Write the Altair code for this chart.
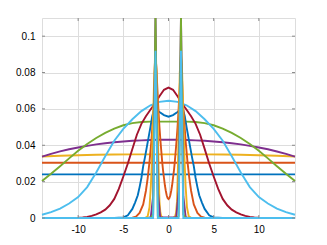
import altair as alt
import pandas as pd

# ---- data ----
X_FLAT = [-14, 14]
BLUE_FLAT = [0.0240, 0.0240]
ORANGE_FLAT = [0.0304, 0.0304]

X_YELLOW_WIDE = [-14, -12, -10, -8, -6, -4, -2, 0, 2, 4, 6, 8, 10, 12, 14]
YELLOW_WIDE = [0.0338, 0.0342, 0.0345, 0.0348, 0.0349, 0.0350, 0.0350, 0.0350,
               0.0350, 0.0350, 0.0349, 0.0348, 0.0345, 0.0342, 0.0338]

X_WIDE = [-14, -13, -12, -11, -10, -9, -8, -7, -6, -5, -4, -3, -2, -1, 0,
          1, 2, 3, 4, 5, 6, 7, 8, 9, 10, 11, 12, 13, 14]
PURPLE_WIDE = [0.0338, 0.0353, 0.0366, 0.0378, 0.0388, 0.0397, 0.0405, 0.0411, 0.0417,
               0.0421, 0.0425, 0.0427, 0.0429, 0.0430, 0.0430, 0.0430, 0.0429, 0.0427,
               0.0425, 0.0421, 0.0417, 0.0411, 0.0405, 0.0397, 0.0388, 0.0378, 0.0366,
               0.0353, 0.0338]
GREEN_WIDE = [0.0203, 0.0243, 0.0285, 0.0328, 0.0370, 0.0407, 0.0440, 0.0468, 0.0492,
              0.0510, 0.0522, 0.0528, 0.0530, 0.0530, 0.0530, 0.0530, 0.0530, 0.0528,
              0.0522, 0.0510, 0.0492, 0.0468, 0.0440, 0.0407, 0.0370, 0.0328, 0.0285,
              0.0243, 0.0203]
LIGHTBLUE_WIDE = [0.0018, 0.0032, 0.0052, 0.0080, 0.0115, 0.0170, 0.0250, 0.0340, 0.0425,
                  0.0490, 0.0543, 0.0588, 0.0620, 0.0639, 0.0645, 0.0639, 0.0620, 0.0588,
                  0.0543, 0.0490, 0.0425, 0.0340, 0.0250, 0.0170, 0.0115, 0.0080, 0.0052,
                  0.0032, 0.0018]

X_RED = [-14, -12, -10, -9.5, -9, -8.5, -8, -7.5, -7, -6.5, -6, -5.5, -5, -4.5, -4, -3.5,
         -3, -2.5, -2, -1.5, -1, -0.5, 0, 0.5, 1, 1.5, 2, 2.5, 3, 3.5, 4, 4.5, 5, 5.5, 6,
         6.5, 7, 7.5, 8, 8.5, 9, 9.5, 10, 12, 14]
RED = [0, 0, 0.0001, 0.0003, 0.0006, 0.0012, 0.0020, 0.0031, 0.0046, 0.0070, 0.0105,
       0.0160, 0.0228, 0.0300, 0.0380, 0.0458, 0.0518, 0.0560, 0.0595, 0.0630, 0.0670,
       0.0705, 0.0717, 0.0705, 0.0670, 0.0630, 0.0595, 0.0560, 0.0518, 0.0458, 0.0380,
       0.0300, 0.0228, 0.0160, 0.0105, 0.0070, 0.0046, 0.0031, 0.0020, 0.0012, 0.0006,
       0.0003, 0.0001, 0, 0]

X_BLUE2 = [-14, -6, -5, -4.5, -4, -3.7, -3.4, -3.2, -3.0, -2.8, -2.6, -2.4, -2.2, -2.0,
           -1.8, -1.6, -1.4, -1.2, -1.0, -0.5, 0, 0.5, 1.0, 1.2, 1.4, 1.6, 1.8, 2.0, 2.2,
           2.4, 2.6, 2.8, 3.0, 3.2, 3.4, 3.7, 4, 4.5, 5, 6, 14]
BLUE2 = [0, 0, 0.0003, 0.0015, 0.0050, 0.0085, 0.0125, 0.0170, 0.0220, 0.0285, 0.0335,
         0.0390, 0.0445, 0.0500, 0.0560, 0.0598, 0.0605, 0.0592, 0.0583, 0.0566, 0.0557,
         0.0566, 0.0583, 0.0592, 0.0605, 0.0598, 0.0560, 0.0500, 0.0445, 0.0390, 0.0335,
         0.0285, 0.0220, 0.0170, 0.0125, 0.0085, 0.0050, 0.0015, 0.0003, 0, 0]

X_ORANGE2 = [-14, -4.5, -4, -3.6, -3.2, -2.8, -2.5, -2.3, -2.1, -1.9, -1.8, -1.7, -1.6,
             -1.5, -1.4, -1.3, -1.2, -1.1, -1.0, -0.9, -0.8, -0.7, -0.6, -0.5, -0.4,
             -0.3, -0.2, -0.1, 0, 0.1, 0.2, 0.3, 0.4, 0.5, 0.6, 0.7, 0.8, 0.9, 1.0, 1.1,
             1.2, 1.3, 1.4, 1.5, 1.6, 1.7, 1.8, 1.9, 2.1, 2.3, 2.5, 2.8, 3.2, 3.6, 4,
             4.5, 14]
ORANGE2 = [0, 0, 0.0002, 0.0008, 0.0028, 0.0075, 0.0150, 0.0220, 0.0310, 0.0420, 0.0490,
           0.0560, 0.0630, 0.0760, 0.0870, 0.0780, 0.0680, 0.0580, 0.0500, 0.0430,
           0.0370, 0.0310, 0.0260, 0.0220, 0.0180, 0.0150, 0.0125, 0.0110, 0.0104,
           0.0110, 0.0125, 0.0150, 0.0180, 0.0220, 0.0260, 0.0310, 0.0370, 0.0430,
           0.0500, 0.0580, 0.0680, 0.0780, 0.0870, 0.0760, 0.0630, 0.0560, 0.0490,
           0.0420, 0.0310, 0.0220, 0.0150, 0.0075, 0.0028, 0.0008, 0.0002, 0, 0]

X_YELLOW2 = [-14, -2.6, -2.3, -2.1, -1.95, -1.84, -1.7, -1.57, -1.44, -1.31, -1.2, -1.1,
             -1.0, -0.9, -0.8, -0.6, 0, 0.54, 0.74, 0.84, 0.94, 1.04, 1.14, 1.25, 1.38,
             1.51, 1.64, 1.78, 1.89, 2.04, 2.24, 2.54, 14]
YELLOW2 = [0, 0, 0.001, 0.006, 0.018, 0.031, 0.055, 0.080, 0.090, 0.080, 0.055, 0.027,
           0.009, 0.003, 0.001, 0, 0, 0, 0.001, 0.003, 0.009, 0.027, 0.055, 0.080, 0.090,
           0.080, 0.055, 0.031, 0.018, 0.006, 0.001, 0, 0]

X_PURPLE2 = [-14, -2.2, -1.96, -1.70, -1.44, -1.18, -0.92, 0.86, 1.12, 1.38, 1.64, 1.90,
             2.14, 14]
PURPLE2 = [0, 0, 0.0005, 0.012, 0.130, 0.015, 0.0003, 0.0003, 0.015, 0.130, 0.012,
           0.0005, 0, 0]

X_GREEN2 = [-14, -1.96, -1.70, -1.44, -1.18, -0.92, 0.86, 1.12, 1.38, 1.64, 1.90, 14]
GREEN2 = [0, 0, 0.002, 0.2, 0.001, 0, 0, 0.001, 0.2, 0.002, 0, 0]

X_LIGHTBLUE2 = [-14, -1.70, -1.44, -1.18, 1.12, 1.38, 1.64, 14]
LIGHTBLUE2 = [0, 0, 0.092, 0, 0, 0.092, 0, 0]

X_TICKS = [-10, -5, 0, 5, 10]
Y_TICKS = [0, 0.02, 0.04, 0.06, 0.08, 0.1]

SERIES = [
    (X_FLAT, BLUE_FLAT, "#0072BD"),
    (X_FLAT, ORANGE_FLAT, "#D95319"),
    (X_YELLOW_WIDE, YELLOW_WIDE, "#EDB120"),
    (X_WIDE, PURPLE_WIDE, "#7E2F8E"),
    (X_WIDE, GREEN_WIDE, "#77AC30"),
    (X_WIDE, LIGHTBLUE_WIDE, "#4DBEEE"),
    (X_RED, RED, "#A2142F"),
    (X_BLUE2, BLUE2, "#0072BD"),
    (X_ORANGE2, ORANGE2, "#D95319"),
    (X_YELLOW2, YELLOW2, "#EDB120"),
    (X_PURPLE2, PURPLE2, "#7E2F8E"),
    (X_GREEN2, GREEN2, "#77AC30"),
    (X_LIGHTBLUE2, LIGHTBLUE2, "#4DBEEE"),
]

W, H = 253, 200
BOX = "#8a8a8a"
TL = 3

xs = alt.Scale(domain=[-14, 14], nice=False, zero=False)
ys = alt.Scale(domain=[0, 0.11], nice=False, clamp=True)
x_axis = alt.Axis(values=X_TICKS, labelExpr="'' + datum.value", title=None,
                  ticks=False, domain=False, grid=True, labelPadding=6)
y_axis = alt.Axis(values=Y_TICKS, labelExpr="'' + datum.value", title=None,
                  ticks=False, domain=False, grid=True, labelPadding=7)

layers = []
for i, (xv, yv, col) in enumerate(SERIES):
    df = pd.DataFrame({"x": xv, "y": yv})
    layers.append(
        alt.Chart(df).mark_line(color=col, strokeWidth=1.9, interpolate="linear").encode(
            x=alt.X("x:Q", scale=xs, axis=x_axis),
            y=alt.Y("y:Q", scale=ys, axis=y_axis),
        )
    )

# inward tick marks on all four sides (MATLAB style)
xt = pd.DataFrame({"x": X_TICKS})
yt = pd.DataFrame({"y": Y_TICKS})
for y0, y1 in [(H, H - TL), (0, TL)]:
    layers.append(alt.Chart(xt).mark_rule(color=BOX, strokeWidth=1).encode(
        x=alt.X("x:Q", scale=xs, axis=x_axis), y=alt.value(y0), y2=alt.value(y1)))
for x0, x1 in [(0, TL), (W, W - TL)]:
    layers.append(alt.Chart(yt).mark_rule(color=BOX, strokeWidth=1).encode(
        y=alt.Y("y:Q", scale=ys, axis=y_axis), x=alt.value(x0), x2=alt.value(x1)))

chart = alt.layer(*layers).properties(
    width=W, height=H,
    autosize=alt.AutoSizeParams(type="none"),
    padding={"left": 34, "top": 10, "right": 10, "bottom": 20},
).configure_view(
    stroke=BOX, strokeWidth=1
).configure_axis(
    gridColor="#e6e6e6", gridWidth=1,
    labelFont="Liberation Sans", labelFontSize=13, labelColor="#262626",
).configure(background="white")

chart.save("out.html", embed_options={"renderer": "svg", "actions": False})
